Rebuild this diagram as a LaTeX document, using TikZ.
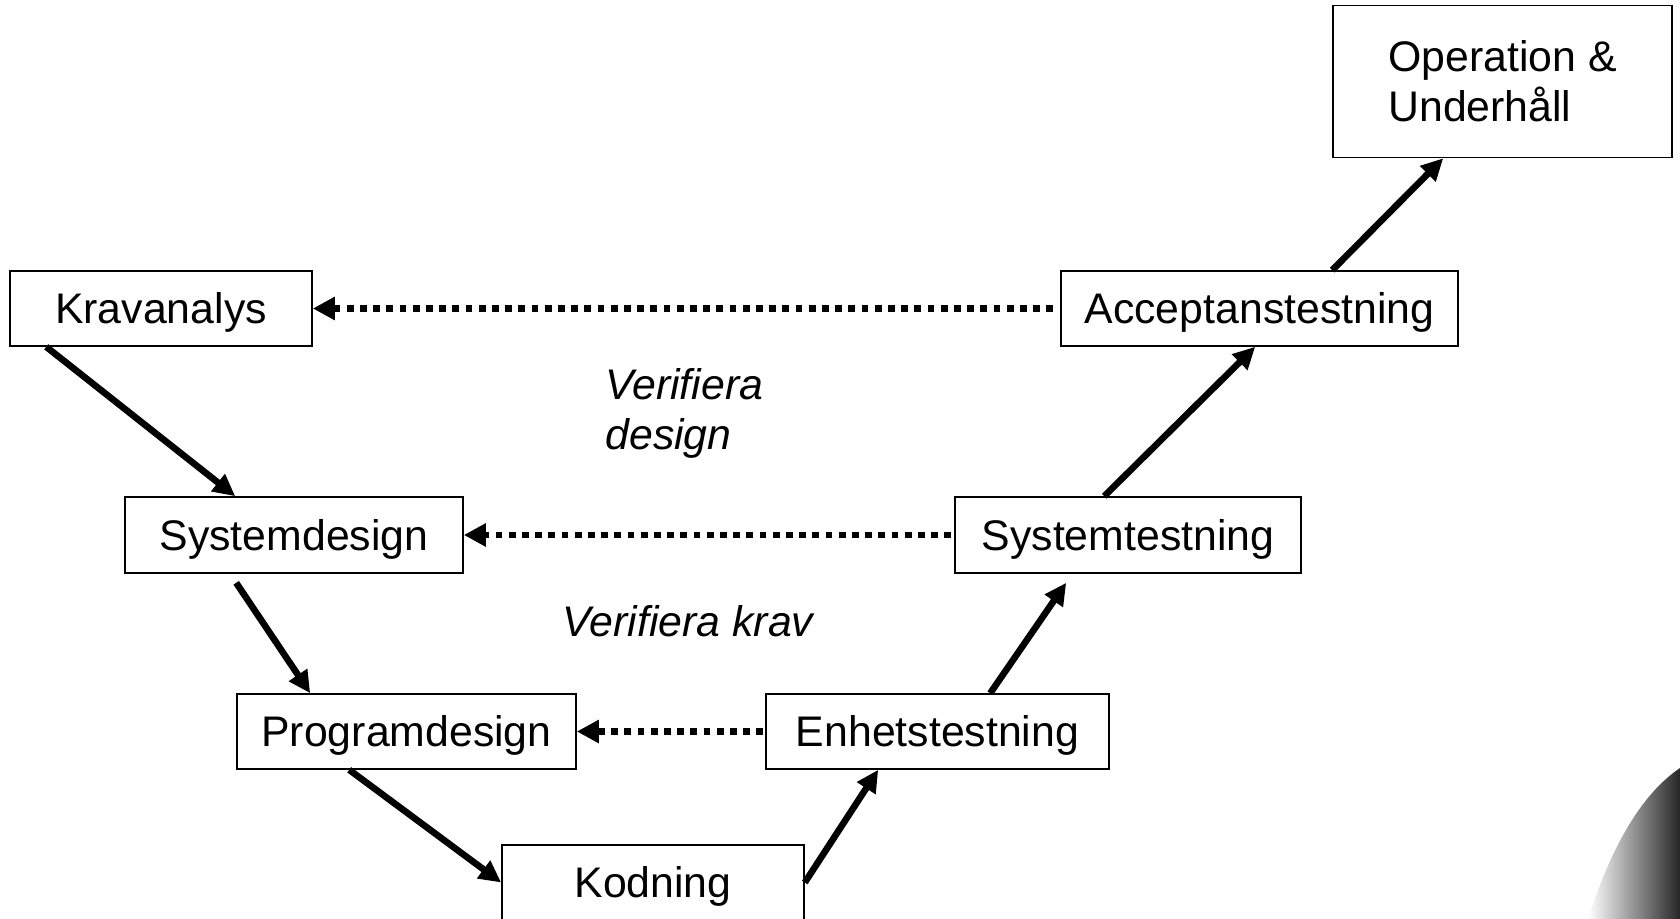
\documentclass[tikz,border=0pt]{standalone}
\usepackage{fontspec}
\setmainfont{Liberation Sans}
\usetikzlibrary{arrows.meta}
\tikzset{
  stage/.style={draw,line width=0.8pt,minimum height=37.5pt,inner sep=0pt,text height=15pt,text depth=0pt,font=\fontsize{21.4}{25}\selectfont},
  note/.style={inner sep=0pt,align=left,font=\itshape\fontsize{21.4}{25}\selectfont},
  flow/.style={line width=3.3pt,-{Triangle[length=11pt,width=10.5pt]}},
  check/.style={line width=3.3pt,dash pattern=on 3.4pt off 3.2pt,-{Triangle[length=11pt,width=11pt]}},
}
\begin{document}
\begin{tikzpicture}[x=0.5pt,y=-0.5pt]
\useasboundingbox (0,0) rectangle (1680,919);
% corner of the background picture
\shade[left color=white,middle color=black!70,right color=black!85](1588,919)..controls(1610,850)and(1640,795)..(1680,768)--(1680,919)--cycle;
% left leg
\node[stage,minimum width=151pt](krav) at (161,308.5){Kravanalys};
\node[stage,minimum width=169pt,minimum height=38pt](sysd) at (294,535){Systemdesign};
\node[stage,minimum width=169.5pt](prog) at (406.5,731.5){Programdesign};
\node[stage,minimum width=151pt](kod) at (653,882.5){Kodning};
% right leg
\node[stage,minimum width=171.5pt](enh) at (937.5,731.5){Enhetstestning};
\node[stage,minimum width=173pt,minimum height=38pt](syst) at (1128,535){Systemtestning};
\node[stage,minimum width=198.5pt](acc) at (1259.5,308.5){Acceptanstestning};
\node[stage,minimum width=169.5pt,minimum height=76pt,align=left,text height=,text depth=](ops) at (1502.5,81.5){Operation \&\\Underhåll};
% labels
\node[note,anchor=west](vdesign) at (605,413){Verifiera\\design};
\node[note](vkrav) at (688,621){Verifiera krav};
% down and up
\draw[flow]([xshift=18.5pt]krav.south west)--([xshift=55.5pt]sysd.north west);
\draw[flow]([xshift=56pt,yshift=-4.5pt]sysd.south west)--([xshift=37pt]prog.north west);
\draw[flow]([xshift=56.5pt]prog.south west)--(kod.west);
\draw[flow](kod.east)--([xshift=56.5pt]enh.south west);
\draw[flow]([xshift=112.5pt]enh.north west)--([xshift=56pt,yshift=-4.5pt]syst.south west);
\draw[flow]([xshift=75pt]syst.north west)--([xshift=97.5pt]acc.south west);
\draw[flow]([xshift=136pt]acc.north west)--([xshift=55.5pt]ops.south west);
% verification
\draw[check]([xshift=-3.5pt]acc.west)--(krav.east);
\draw[check]([xshift=-1.5pt]syst.west)--(sysd.east);
\draw[check]([xshift=-1pt]enh.west)--(prog.east);
\end{tikzpicture}
\end{document}
